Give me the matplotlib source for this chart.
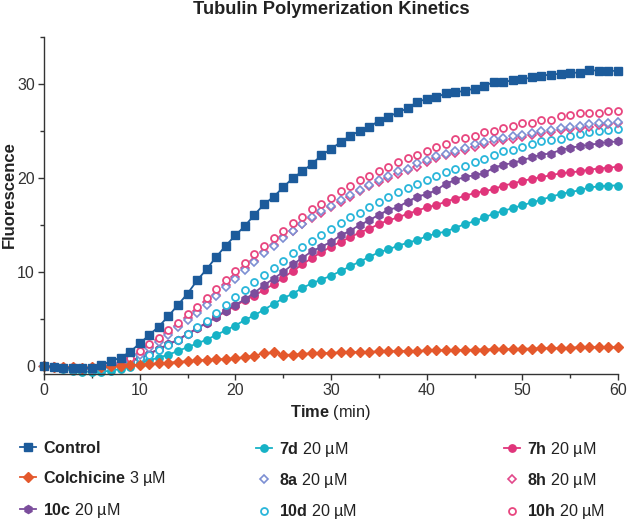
import numpy as np
import matplotlib
matplotlib.use("Agg")
import matplotlib.pyplot as plt
from matplotlib.ticker import MultipleLocator

plt.rcParams['font.family'] = ['Liberation Sans', 'DejaVu Sans']
plt.rcParams['mathtext.fontset'] = 'custom'
plt.rcParams['mathtext.rm'] = 'Liberation Sans'
plt.rcParams['mathtext.bf'] = 'Liberation Sans:bold'

time_min = list(range(0, 61))

control = [0.0, -0.1, -0.2, -0.2, -0.2, -0.2, 0.1, 0.5, 0.9, 1.5, 2.4, 3.3, 4.2, 5.3, 6.5, 7.7,
           9.1, 10.3, 11.6, 12.8, 13.9, 14.9, 16.1, 17.2, 18.0, 19.0, 20.0, 20.7, 21.5, 22.4,
           23.1, 23.8, 24.5, 25.0, 25.4, 26.1, 26.5, 27.0, 27.4, 28.1, 28.4, 28.6, 29.0, 29.1,
           29.3, 29.5, 29.8, 30.2, 30.2, 30.4, 30.5, 30.7, 30.9, 31.0, 31.1, 31.2, 31.2, 31.5,
           31.4, 31.4, 31.4]
colchicine = [0.0, -0.1, -0.1, -0.1, -0.2, -0.1, -0.1, 0.0, 0.05, 0.1, 0.15, 0.2, 0.3, 0.35,
              0.45, 0.5, 0.6, 0.65, 0.7, 0.75, 0.8, 0.95, 1.1, 1.35, 1.45, 1.2, 1.2, 1.3, 1.35,
              1.35, 1.4, 1.45, 1.45, 1.5, 1.5, 1.55, 1.55, 1.6, 1.6, 1.6, 1.65, 1.65, 1.7, 1.7,
              1.7, 1.75, 1.75, 1.8, 1.8, 1.8, 1.85, 1.85, 1.9, 1.9, 1.9, 1.95, 2.0, 2.0, 2.0,
              2.0, 2.0]
c10c = [0.0, -0.1, -0.2, -0.3, -0.3, -0.3, -0.2, 0.0, 0.2, 0.5, 0.8, 1.3, 1.8, 2.3, 2.8, 3.4,
        4.0, 4.6, 5.2, 5.9, 6.5, 7.1, 7.8, 8.6, 9.3, 10.0, 10.8, 11.5, 12.2, 12.7, 13.2, 13.9,
        14.4, 15.0, 15.5, 16.1, 16.6, 16.9, 17.5, 18.0, 18.3, 18.7, 19.4, 19.8, 20.1, 20.3,
        20.5, 21.1, 21.4, 21.6, 21.9, 22.2, 22.5, 22.6, 23.0, 23.2, 23.4, 23.5, 23.7, 23.8, 23.9]
c7d = [0.0, -0.1, -0.3, -0.5, -0.6, -0.6, -0.6, -0.5, -0.3, -0.1, 0.3, 0.6, 0.9, 1.2, 1.6,
       2.0, 2.4, 2.8, 3.3, 3.8, 4.3, 4.9, 5.4, 6.0, 6.6, 7.2, 7.7, 8.3, 8.8, 9.2, 9.6, 10.1,
       10.6, 11.1, 11.6, 12.1, 12.4, 12.8, 13.1, 13.4, 13.8, 14.1, 14.3, 14.7, 15.1, 15.4,
       15.8, 16.2, 16.5, 16.8, 17.1, 17.4, 17.7, 18.0, 18.3, 18.5, 18.7, 19.0, 19.1, 19.2, 19.2]
c7h = [0.0, -0.1, -0.2, -0.3, -0.3, -0.3, -0.2, 0.0, 0.3, 0.6, 0.9, 1.3, 1.8, 2.3, 2.8, 3.4,
       4.0, 4.6, 5.2, 5.8, 6.4, 7.0, 7.5, 8.1, 8.7, 9.4, 10.1, 10.8, 11.5, 12.1, 12.7, 13.2,
       13.7, 14.2, 14.6, 15.1, 15.5, 15.8, 16.2, 16.5, 16.9, 17.1, 17.5, 17.8, 18.1, 18.4,
       18.6, 18.8, 19.2, 19.4, 19.7, 19.9, 20.1, 20.3, 20.5, 20.6, 20.7, 20.9, 21.0, 21.1, 21.2]
c10d = [0.0, -0.1, -0.2, -0.3, -0.4, -0.4, -0.3, -0.1, 0.1, 0.4, 0.8, 1.2, 1.7, 2.2, 2.8, 3.4,
        4.1, 4.8, 5.6, 6.5, 7.3, 8.1, 8.9, 9.7, 10.4, 11.2, 12.0, 12.7, 13.3, 13.9, 14.6, 15.2,
        15.8, 16.3, 16.9, 17.5, 18.0, 18.5, 18.9, 19.4, 19.8, 20.2, 20.6, 21.0, 21.3, 21.7,
        22.0, 22.4, 22.9, 23.0, 23.3, 23.6, 23.9, 24.0, 24.2, 24.5, 24.7, 24.9, 25.0, 25.1, 25.2]
c8a = [0.0, -0.1, -0.2, -0.2, -0.3, -0.3, -0.1, 0.0, 0.2, 0.6, 1.2, 1.9, 2.6, 3.3, 4.1, 4.9,
       5.6, 6.5, 7.4, 8.4, 9.3, 10.2, 11.1, 12.0, 12.8, 13.6, 14.4, 15.1, 15.8, 16.5, 17.0,
       17.7, 18.2, 18.7, 19.3, 19.8, 20.2, 20.7, 21.0, 21.6, 21.9, 22.3, 22.6, 22.9, 23.2,
       23.6, 23.8, 24.1, 24.3, 24.5, 24.6, 24.8, 25.0, 25.1, 25.3, 25.4, 25.5, 25.7, 25.8,
       25.9, 26.0]
c8h = [0.0, -0.1, -0.2, -0.2, -0.3, -0.3, -0.1, 0.1, 0.3, 0.7, 1.3, 2.0, 2.8, 3.5, 4.3, 5.1,
       5.9, 6.8, 7.6, 8.6, 9.5, 10.4, 11.2, 12.1, 12.9, 13.7, 14.4, 15.1, 15.7, 16.3, 16.9,
       17.5, 18.0, 18.6, 19.1, 19.6, 20.0, 20.4, 20.8, 21.2, 21.7, 22.1, 22.4, 22.7, 23.0,
       23.3, 23.6, 23.8, 24.0, 24.2, 24.4, 24.6, 24.8, 24.9, 25.1, 25.2, 25.3, 25.4, 25.6,
       25.7, 25.8]
c10h = [0.0, -0.1, -0.2, -0.2, -0.2, -0.2, 0.0, 0.1, 0.4, 0.9, 1.6, 2.3, 3.0, 3.8, 4.6, 5.5,
        6.3, 7.2, 8.2, 9.1, 10.1, 11.0, 11.9, 12.8, 13.6, 14.4, 15.2, 15.9, 16.7, 17.2, 17.9,
        18.6, 19.2, 19.8, 20.2, 20.7, 21.2, 21.7, 22.1, 22.5, 22.9, 23.3, 23.6, 24.1, 24.3,
        24.5, 24.9, 25.0, 25.3, 25.5, 25.9, 25.9, 26.2, 26.2, 26.6, 26.7, 26.9, 26.9, 26.9,
        27.1, 27.1]

labels = [r"$\mathbf{Control}$", r"$\mathbf{Colchicine}$ 3 µM", r"$\mathbf{10c}$ 20 µM",
          r"$\mathbf{7d}$ 20 µM", r"$\mathbf{8a}$ 20 µM", r"$\mathbf{10d}$ 20 µM",
          r"$\mathbf{7h}$ 20 µM", r"$\mathbf{8h}$ 20 µM", r"$\mathbf{10h}$ 20 µM"]

fig = plt.figure(figsize=(6.27, 5.22), dpi=100)
ax = fig.add_axes([44/627, 1-374/522, (618-44)/627, (374-37)/522])

styles = {
    'control': dict(color='#1c5b9b', marker='s', ms=5.6, ls='-', lw=1.3, mfc='#1c5b9b'),
    'colch': dict(color='#e4582c', marker='D', ms=5.0, ls='-', lw=1.3, mfc='#e4582c'),
    '10c': dict(color='#7b4d9c', marker='h', ms=5.8, ls='-', lw=1.3, mfc='#7b4d9c'),
    '7d': dict(color='#17b2c6', marker='o', ms=5.3, ls='-', lw=1.3, mfc='#17b2c6'),
    '8a': dict(color='#7c8fd3', marker='D', ms=4.3, ls='none', mfc='white', mew=1.2),
    '10d': dict(color='#2ab6da', marker='o', ms=5.0, ls='none', mfc='white', mew=1.3),
    '7h': dict(color='#e0357b', marker='o', ms=5.3, ls='-', lw=1.3, mfc='#e0357b'),
    '8h': dict(color='#e2478a', marker='D', ms=4.3, ls='none', mfc='white', mew=1.2),
    '10h': dict(color='#e8467f', marker='o', ms=5.0, ls='none', mfc='white', mew=1.3),
}

h = {}
h['7d'], = ax.plot(time_min, c7d, clip_on=False, **styles['7d'])
h['7h'], = ax.plot(time_min, c7h, clip_on=False, **styles['7h'])
h['10c'], = ax.plot(time_min, c10c, clip_on=False, **styles['10c'])
h['10d'], = ax.plot(time_min, c10d, clip_on=False, **styles['10d'])
h['8h'], = ax.plot(time_min, c8h, clip_on=False, **styles['8h'])
h['8a'], = ax.plot(time_min, c8a, clip_on=False, **styles['8a'])
h['10h'], = ax.plot(time_min, c10h, clip_on=False, **styles['10h'])
h['colch'], = ax.plot(time_min, colchicine, clip_on=False, **styles['colch'])
h['control'], = ax.plot(time_min, control, clip_on=False, **styles['control'])

ax.set_xlim(0, 60)
ax.set_ylim(-0.85, 35)
ax.xaxis.set_major_locator(MultipleLocator(10))
ax.xaxis.set_minor_locator(MultipleLocator(5))
ax.yaxis.set_major_locator(MultipleLocator(10))
ax.yaxis.set_minor_locator(MultipleLocator(5))
for s in ['top', 'right']:
    ax.spines[s].set_visible(False)
for s in ['left', 'bottom']:
    ax.spines[s].set_linewidth(1.0)
    ax.spines[s].set_color('#333333')
ax.tick_params(which='major', length=4, width=1.0, color='#333333', labelsize=11.5,
               labelcolor='#333333', pad=2.5)
ax.tick_params(which='minor', length=3, width=1.0, color='#333333')

fig.text(331/627, 1-9/522, "Tubulin Polymerization Kinetics", ha='center', va='center',
         fontsize=13.2, fontweight='bold', color='#222222')
fig.text(331/627, 1-412/522, r"$\mathbf{Time}$ (min)", ha='center', va='center',
         fontsize=11.8, color='#222222')
fig.text(9/627, 1-195/522, "Fluorescence", ha='center', va='center', rotation=90,
         fontsize=12, fontweight='bold', color='#222222')

cols = [(['control', 'colch', '10c'], labels[0:3], 20, 440, 0.8),
        (['7d', '8a', '10d'], labels[3:6], 256, 440, 0.75),
        (['7h', '8h', '10h'], labels[6:9], 504, 440, 0.75)]
for keys, labs, x0, ytop, lsp in cols:
    leg = fig.legend([h[k] for k in keys], labs, loc='upper left',
                     bbox_to_anchor=(x0/627, 1-ytop/522), frameon=False, fontsize=11.6,
                     handlelength=1.0, handletextpad=0.45, labelspacing=lsp,
                     borderpad=0, borderaxespad=0)
    for t in leg.get_texts():
        t.set_color('#222222')

fig.savefig('out.png', dpi=100)
